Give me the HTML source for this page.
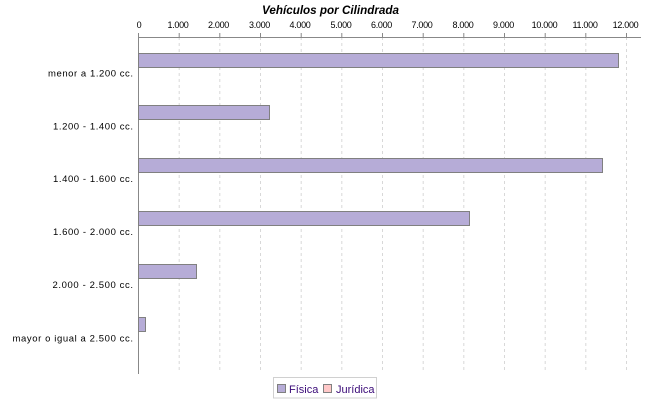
<!DOCTYPE html>
<html>
<head>
<meta charset="utf-8">
<style>
  html,body{margin:0;padding:0;background:#fff;}
  svg{display:block;}
  text{font-family:"Liberation Sans",sans-serif;}
</style>
</head>
<body>
<svg width="650" height="400" viewBox="0 0 650 400" xmlns="http://www.w3.org/2000/svg">
  <rect width="650" height="400" fill="#fff"/>
  <!-- Title -->
  <text x="262" y="14" font-size="12" font-weight="bold" font-style="italic" textLength="137" lengthAdjust="spacingAndGlyphs" fill="#000">Vehículos por Cilindrada</text>

  <!-- Gridlines -->
  <g stroke="#d8d8d8" stroke-width="1" stroke-dasharray="3,3">
    <line x1="179.2" y1="37" x2="179.2" y2="373"/>
    <line x1="219.8" y1="37" x2="219.8" y2="373"/>
    <line x1="260.5" y1="37" x2="260.5" y2="373"/>
    <line x1="301.2" y1="37" x2="301.2" y2="373"/>
    <line x1="341.8" y1="37" x2="341.8" y2="373"/>
    <line x1="382.5" y1="37" x2="382.5" y2="373"/>
    <line x1="423.2" y1="37" x2="423.2" y2="373"/>
    <line x1="463.8" y1="37" x2="463.8" y2="373"/>
    <line x1="504.5" y1="37" x2="504.5" y2="373"/>
    <line x1="545.2" y1="37" x2="545.2" y2="373"/>
    <line x1="585.8" y1="37" x2="585.8" y2="373"/>
    <line x1="626.5" y1="37" x2="626.5" y2="373"/>
  </g>

  <!-- Axes -->
  <line x1="138" y1="37.5" x2="641" y2="37.5" stroke="#888" stroke-width="1"/>
  <line x1="138.5" y1="37" x2="138.5" y2="374" stroke="#888" stroke-width="1"/>

  <!-- Tick marks -->
  <g stroke="#888" stroke-width="1">
    <line x1="138.5" y1="33" x2="138.5" y2="37"/>
    <line x1="179.2" y1="33" x2="179.2" y2="37"/>
    <line x1="219.8" y1="33" x2="219.8" y2="37"/>
    <line x1="260.5" y1="33" x2="260.5" y2="37"/>
    <line x1="301.2" y1="33" x2="301.2" y2="37"/>
    <line x1="341.8" y1="33" x2="341.8" y2="37"/>
    <line x1="382.5" y1="33" x2="382.5" y2="37"/>
    <line x1="423.2" y1="33" x2="423.2" y2="37"/>
    <line x1="463.8" y1="33" x2="463.8" y2="37"/>
    <line x1="504.5" y1="33" x2="504.5" y2="37"/>
    <line x1="545.2" y1="33" x2="545.2" y2="37"/>
    <line x1="585.8" y1="33" x2="585.8" y2="37"/>
    <line x1="626.5" y1="33" x2="626.5" y2="37"/>
  </g>

  <!-- Tick labels -->
  <g font-size="9" fill="#000" text-anchor="middle" letter-spacing="-0.3">
    <text x="139" y="28">0</text>
    <text x="178" y="28">1.000</text>
    <text x="218.5" y="28">2.000</text>
    <text x="259.5" y="28">3.000</text>
    <text x="300" y="28">4.000</text>
    <text x="341" y="28">5.000</text>
    <text x="381.5" y="28">6.000</text>
    <text x="422" y="28">7.000</text>
    <text x="463" y="28">8.000</text>
    <text x="503.5" y="28">9.000</text>
    <text x="544.5" y="28">10.000</text>
    <text x="585" y="28">11.000</text>
    <text x="625.5" y="28">12.000</text>
  </g>

  <!-- Bars -->
  <g fill="#b6acd7" stroke="#808080" stroke-width="1">
    <rect x="138.5" y="53.5" width="480" height="14"/>
    <rect x="138.5" y="105.5" width="131" height="14"/>
    <rect x="138.5" y="158.5" width="464" height="14"/>
    <rect x="138.5" y="211.5" width="331" height="14"/>
    <rect x="138.5" y="264.5" width="58" height="14"/>
    <rect x="138.5" y="317.5" width="7" height="14"/>
  </g>

  <!-- Category labels -->
  <g font-size="9.5" fill="#000" text-anchor="end">
    <text x="133" y="76.5" textLength="85" lengthAdjust="spacing">menor a 1.200 cc.</text>
    <text x="133" y="129.5" textLength="80" lengthAdjust="spacing">1.200 - 1.400 cc.</text>
    <text x="133" y="182" textLength="80" lengthAdjust="spacing">1.400 - 1.600 cc.</text>
    <text x="133" y="235" textLength="80" lengthAdjust="spacing">1.600 - 2.000 cc.</text>
    <text x="133" y="288" textLength="80.5" lengthAdjust="spacing">2.000 - 2.500 cc.</text>
    <text x="133" y="341.5" textLength="120.5" lengthAdjust="spacing">mayor o igual a 2.500 cc.</text>
  </g>

  <!-- Legend -->
  <rect x="273.5" y="377.5" width="103" height="20.5" fill="#fff" stroke="#d0d0d0" stroke-width="1"/>
  <rect x="277.5" y="384.5" width="8" height="8" fill="#b6acd7" stroke="#808080" stroke-width="1"/>
  <text x="289" y="393" font-size="11" fill="#3a0a78">Física</text>
  <rect x="323.5" y="384.5" width="8" height="8" fill="#ffc8c8" stroke="#808080" stroke-width="1"/>
  <text x="336" y="393" font-size="11" fill="#3a0a78">Jurídica</text>
</svg>
</body>
</html>
